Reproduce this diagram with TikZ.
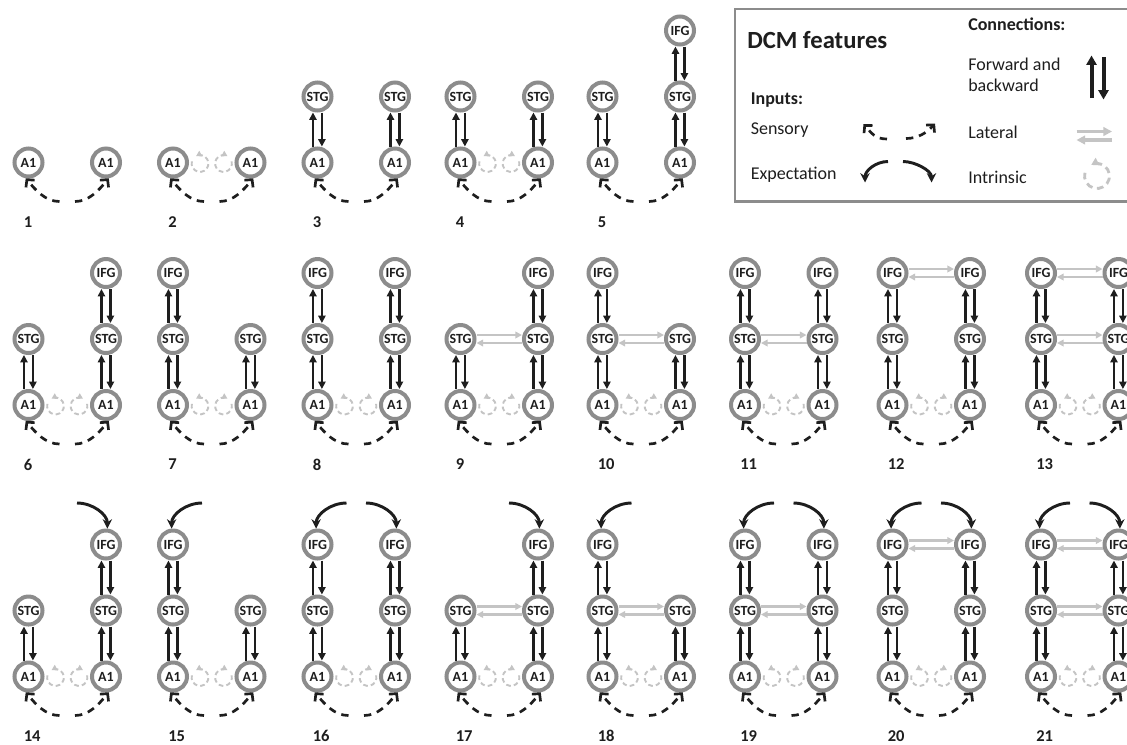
\documentclass[tikz,border=0pt]{standalone}
\usepackage{fontspec}
\setmainfont{Carlito}
\usetikzlibrary{arrows.meta,calc}

\definecolor{ring}{HTML}{8C8C8C}
\definecolor{ink}{HTML}{1E1E1E}
\definecolor{latg}{HTML}{C4C4C4}

\tikzset{
  reg/.style={circle, draw=ring, line width=3pt, fill=white, minimum size=21pt,
    inner sep=0pt, font=\bfseries\fontsize{10.5}{11}\selectfont, text=ink},
  fb/.style={draw=ink, line width=2.1pt, -{Triangle[length=5.5pt,width=5.4pt]}},
  fbbig/.style={draw=ink, line width=3pt, -{Triangle[length=7pt,width=7.5pt]}},
  lat/.style={draw=latg, line width=1.6pt, -{Triangle[length=5pt,width=5pt]}},
  latbig/.style={draw=latg, line width=2.3pt, -{Triangle[length=6.5pt,width=6.5pt]}},
  sens/.style={draw=ink, line width=2pt, dash pattern=on 5.5pt off 4.5pt,
    -{Straight Barb[length=4pt,width=8.5pt]}},
  expc/.style={draw=ink, line width=2.2pt, -{Stealth[length=7pt,width=7pt]}},
  intr/.style={draw=latg, line width=1.4pt, dash pattern=on 3.5pt off 2.3pt,
    -{Triangle[length=4pt,width=4.5pt]}},
  intrbig/.style={draw=latg, line width=2.1pt, dash pattern=on 5pt off 3.5pt,
    -{Triangle[length=5.5pt,width=6pt]}},
  num/.style={anchor=west, inner sep=0pt, font=\bfseries\fontsize{12.4}{14}\selectfont, text=ink},
  lgtitle/.style={anchor=base west, inner sep=0pt, font=\bfseries\fontsize{18.5}{22}\selectfont, text=ink},
  lghead/.style={anchor=base west, inner sep=0pt, font=\bfseries\fontsize{13.5}{16}\selectfont, text=ink},
  lgtext/.style={anchor=base west, inner sep=0pt, font=\fontsize{13.5}{16}\selectfont, text=ink},
}

% one hemisphere: A1, optionally STG and IFG stacked above, with forward/backward links
\newcommand\regcol[4]{%
  \node[reg] (#1A1) at (#2,#3) {A1};
  \ifnum#4>1\relax
    \node[reg] (#1STG) at (#2,#3-66) {STG};
    \draw[fb] ([xshift=-3.4pt]#1A1.north) -- ([xshift=-3.4pt]#1STG.south);
    \draw[fb] ([xshift=3.3pt]#1STG.south) -- ([xshift=3.3pt]#1A1.north);
  \fi
  \ifnum#4>2\relax
    \node[reg] (#1IFG) at (#2,#3-132) {IFG};
    \draw[fb] ([xshift=-3.4pt]#1STG.north) -- ([xshift=-3.4pt]#1IFG.south);
    \draw[fb] ([xshift=3.3pt]#1IFG.south) -- ([xshift=3.3pt]#1STG.north);
  \fi
}

% lateral pair between the two hemispheres
\newcommand\lateral[2]{%
  \draw[lat] ([yshift=3pt]#1.east) -- ([yshift=3pt]#2.west);
  \draw[lat] ([yshift=-3pt]#2.west) -- ([yshift=-3pt]#1.east);
}

% #1 number, #2 x of left column, #3 y of A1, #4/#5 levels left/right,
% #6 intrinsic, #7 STG lateral, #8 IFG lateral, #9 expectation (1 left, 2 right, 3 both)
\newcommand\model[9]{%
  \regcol{m#1L}{#2}{#3}{#4}
  \regcol{m#1R}{#2+77.5}{#3}{#5}
  \ifnum#6=1\relax
    \coordinate (m#1iL) at (#2+27,#3+1);
    \coordinate (m#1iR) at (#2+50.5,#3+1);
    \draw[intr] (m#1iL) ++(-165:8.4) arc[start angle=-165, end angle=-478, radius=8.4];
    \draw[intr] (m#1iR) ++(-15:8.4) arc[start angle=-15, end angle=298, radius=8.4];
  \fi
  \ifnum#7=1\relax \lateral{m#1LSTG}{m#1RSTG}\fi
  \ifnum#8=1\relax \lateral{m#1LIFG}{m#1RIFG}\fi
  \ifodd#9\relax
    \coordinate (m#1eL) at (#2+29,#3-173.5);
    \draw[expc] (m#1eL) .. controls +(-16,0) and +(0,-14) .. (m#1LIFG.95);
  \fi
  \ifnum#9>1\relax
    \coordinate (m#1eR) at (#2+48.5,#3-173.5);
    \draw[expc] (m#1eR) .. controls +(16,0) and +(0,-14) .. (m#1RIFG.85);
  \fi
  \coordinate (m#1sL) at (#2+31,#3+39);
  \coordinate (m#1sR) at (#2+46.5,#3+39);
  \draw[sens] (m#1sL) .. controls +(-14,0) and +(10,12) .. (m#1LA1.-100);
  \draw[sens] (m#1sR) .. controls +(14,0) and +(-10,12) .. (m#1RA1.-80);
  \node[num] (m#1n) at (#2-5,#3+59.5) {#1};
}

\begin{document}
\begin{tikzpicture}[x=0.75pt, y=-0.75pt]
\useasboundingbox (0,0) rectangle (1127,744);
\fill[white] (0,0) rectangle (1127,744);
\clip (0,0) rectangle (1127,744);

% row 1
\model{1}{28.5}{162.5}{1}{1}{0}{0}{0}{0}
\model{2}{173}{162.5}{1}{1}{1}{0}{0}{0}
\model{3}{317.5}{162.5}{2}{2}{0}{0}{0}{0}
\model{4}{460.5}{162.5}{2}{2}{1}{0}{0}{0}
\model{5}{602.5}{162.5}{2}{3}{0}{0}{0}{0}

% row 2
\model{6}{28.5}{405}{2}{3}{1}{0}{0}{0}
\model{7}{173}{405}{3}{2}{1}{0}{0}{0}
\model{8}{317.5}{405}{3}{3}{1}{0}{0}{0}
\model{9}{460.5}{405}{2}{3}{1}{1}{0}{0}
\model{10}{602.5}{405}{3}{2}{1}{1}{0}{0}
\model{11}{745}{405}{3}{3}{1}{1}{0}{0}
\model{12}{892.5}{405}{3}{3}{1}{0}{1}{0}
\model{13}{1041}{405}{3}{3}{1}{1}{1}{0}

% row 3
\model{14}{28.5}{676.5}{2}{3}{1}{0}{0}{2}
\model{15}{173}{676.5}{3}{2}{1}{0}{0}{1}
\model{16}{317.5}{676.5}{3}{3}{1}{0}{0}{3}
\model{17}{460.5}{676.5}{2}{3}{1}{1}{0}{2}
\model{18}{602.5}{676.5}{3}{2}{1}{1}{0}{1}
\model{19}{745}{676.5}{3}{3}{1}{1}{0}{3}
\model{20}{892.5}{676.5}{3}{3}{1}{0}{1}{3}
\model{21}{1041}{676.5}{3}{3}{1}{1}{1}{3}

% legend
\node[draw=ring, line width=2.2pt, inner sep=0pt, minimum width=306pt, minimum height=144.4pt,
  anchor=north west] (legend) at (733.5,7.5) {};
\node[lgtitle] (lgT) at (747,48.5) {DCM features};
\node[lghead] (lgC) at (968,30.5) {Connections:};
\node[lgtext] (lgF1) at (968,70.5) {Forward and};
\node[lgtext] (lgF2) at (968,91.5) {backward};
\node[lghead] (lgI) at (750.5,104) {Inputs:};
\node[lgtext] (lgS) at (750.5,134) {Sensory};
\node[lgtext] (lgE) at (750.5,179) {Expectation};
\node[lgtext] (lgL) at (968,138) {Lateral};
\node[lgtext] (lgN) at (968,183) {Intrinsic};

\coordinate (fbA) at (1091.5,98);
\coordinate (fbB) at (1091.5,55.5);
\coordinate (fbC) at (1103.5,57);
\coordinate (fbD) at (1103.5,99.5);
\draw[fbbig] (fbA) -- (fbB);
\draw[fbbig] (fbC) -- (fbD);

\coordinate (laA) at (1076.5,131.5);
\coordinate (laB) at (1112,131.5);
\coordinate (laC) at (1112,140);
\coordinate (laD) at (1076.5,140);
\draw[latbig] (laA) -- (laB);
\draw[latbig] (laC) -- (laD);

\coordinate (seA) at (887,139);
\coordinate (seB) at (863.5,124);
\coordinate (seC) at (906,138.5);
\coordinate (seD) at (935,123.5);
\draw[sens] (seA) .. controls +(-12,0) and +(8,9) .. (seB);
\draw[sens] (seC) .. controls +(12,0) and +(-8,9) .. (seD);

\coordinate (exA) at (888,161.5);
\coordinate (exB) at (865,182.5);
\coordinate (exC) at (903,161.5);
\coordinate (exD) at (931.5,182.5);
\draw[expc] (exA) .. controls +(-12,0) and +(0,-12) .. (exB);
\draw[expc] (exC) .. controls +(12,0) and +(0,-12) .. (exD);

\coordinate (inC) at (1097,176);
\draw[intrbig] (inC) ++(-165:12.5) arc[start angle=-165, end angle=-478, radius=12.5];
\end{tikzpicture}
\end{document}
